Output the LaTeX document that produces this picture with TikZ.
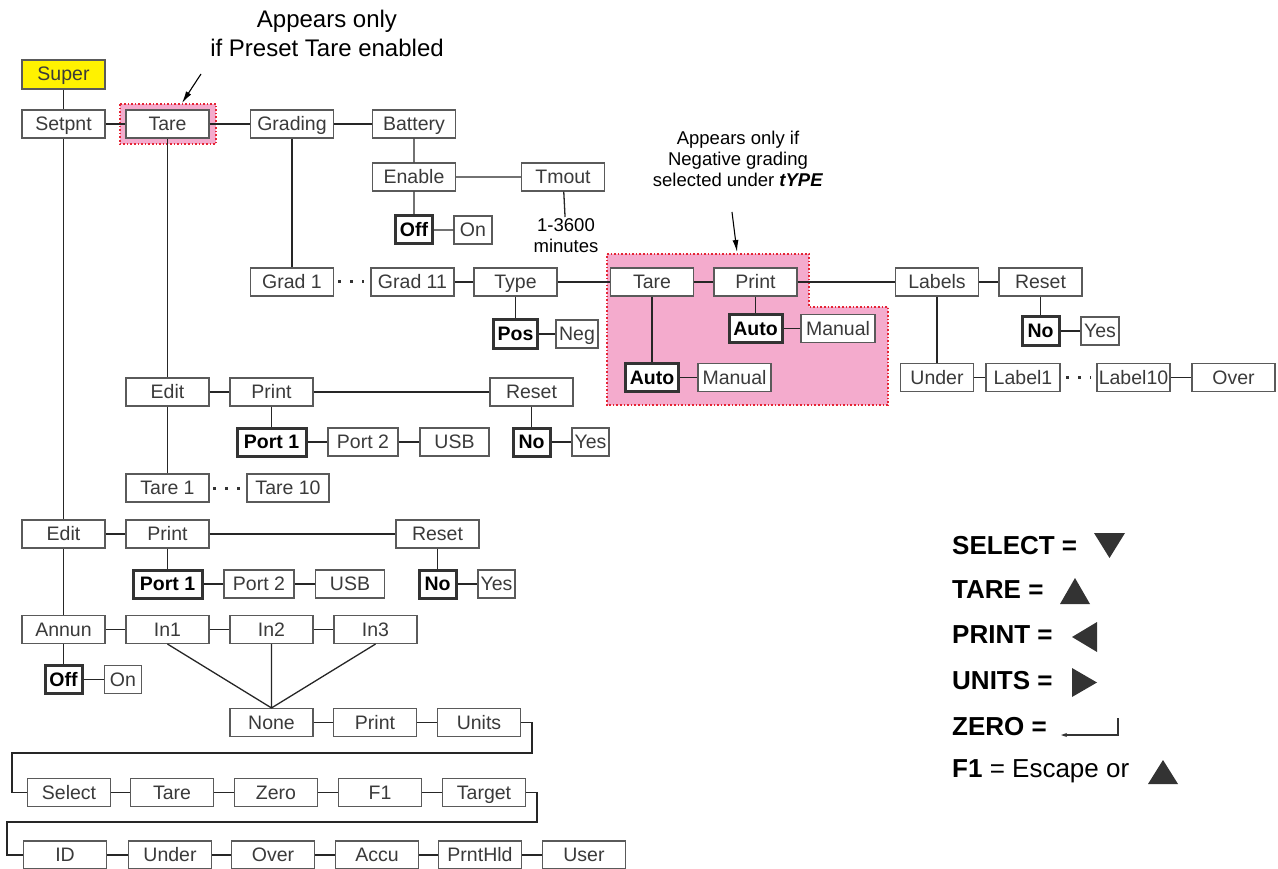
\documentclass[tikz,border=0pt]{standalone}
\usepackage{fontspec}
\setmainfont{Liberation Sans}
\usetikzlibrary{arrows.meta,calc}
\definecolor{mnpink}{HTML}{F4ABCD}
\definecolor{mnred}{HTML}{E52535}
\definecolor{mnyel}{HTML}{FFF200}
\definecolor{mnline}{HTML}{5A5A5A}
\definecolor{mntext}{HTML}{3A3A3A}
\definecolor{mndark}{HTML}{333333}

\begin{document}
\begin{tikzpicture}[x=1pt,y=-1pt,
  mbox/.style={rectangle,draw=mnline,line width=1.1pt,fill=white,text=mntext,inner sep=0pt,
    text height=14pt,text depth=1pt,minimum width=83pt,minimum height=28pt,font=\fontsize{19.5}{22}\selectfont},
  mdef/.style={mbox,draw=mndark,line width=3pt,text=black,font=\fontsize{19.5}{22}\selectfont\bfseries},
  ln/.style={line width=1.3pt,black!85},
  dts/.style={line width=3pt,dash pattern=on 3pt off 9pt,black!80},
  hl/.style={fill=mnpink,draw=mnred,line width=1.6pt,dotted},
  arr/.style={-{Latex[length=12pt,width=6pt]},line width=1.1pt},
  tri/.style={fill=mndark},
  leg/.style={anchor=west,inner sep=0pt,font=\fontsize{26}{30}\selectfont\bfseries}]
  \useasboundingbox (0,0) rectangle (1278,869);

  % shaded groups
  \path[hl] (120,104) rectangle (216,144);
  \path[hl] (607,254) -- (809,254) -- (809,307) -- (888,307) -- (888,405) -- (607,405) -- cycle;

  % notes
  \node[align=center,font=\fontsize{24}{29}\selectfont] (note1) at (327,33) {Appears only\\if Preset Tare enabled};
  \coordinate (n1a) at (201,74);
  \coordinate (n1b) at (182,103);
  \draw[arr] (n1a) -- (n1b);
  \node[align=center,font=\fontsize{18.5}{21}\selectfont] (note2) at (738,159) {Appears only if\\Negative grading\\selected under \textbf{\textit{tYPE}}};
  \coordinate (n2a) at (732,212);
  \coordinate (n2b) at (737,252);
  \draw[arr] (n2a) -- (n2b);

  % top row
  \node[mbox,fill=mnyel,minimum height=29pt] (super) at (63.5,74.5) {Super};
  \node[mbox] (setpnt) at (63.5,124) {Setpnt};
  \node[mbox] (tare) at (167.5,124) {Tare};
  \node[mbox] (grading) at (292,124) {Grading};
  \node[mbox] (battery) at (414,124) {Battery};
  \node[mbox] (enable) at (414,177) {Enable};
  \node[mbox] (tmout) at (563,177) {Tmout};
  \node[mdef,minimum width=37pt] (boff) at (414,230) {Off};
  \node[mbox,minimum width=38pt] (bon) at (473,230) {On};
  \node[anchor=north,align=center,inner sep=1pt,font=\fontsize{18.5}{21}\selectfont] (tmrange) at (566,217) {1-3600\\minutes};

  % grading row
  \node[mbox] (grad1) at (292,282) {Grad 1};
  \node[mbox] (grad11) at (412.5,282) {Grad 11};
  \node[mbox] (type) at (515.5,282) {Type};
  \node[mdef,minimum width=44pt] (pos) at (515.5,334) {Pos};
  \node[mbox,minimum width=42pt] (neg) at (577,334) {Neg};
  \node[mbox] (gtare) at (652,282) {Tare};
  \node[mbox] (gprint) at (755.5,282) {Print};
  \node[mdef,minimum width=53pt] (pauto) at (755.5,328.5) {Auto};
  \node[mbox,minimum width=74pt] (pman) at (838,328.5) {Manual};
  \node[mdef,minimum width=53pt] (tauto) at (652,377.5) {Auto};
  \node[mbox,minimum width=73pt] (tman) at (734.5,377.5) {Manual};
  \node[mbox] (labels) at (937,282) {Labels};
  \node[mbox] (lreset) at (1040.5,282) {Reset};
  \node[mdef,minimum width=37pt] (lno) at (1040.5,331) {No};
  \node[mbox,minimum width=38pt] (lyes) at (1100,331) {Yes};
  \node[mbox,minimum width=73pt] (under) at (937,377.5) {Under};
  \node[mbox,minimum width=74pt] (label1) at (1023,377.5) {Label1};
  \node[mbox,minimum width=73pt] (label10) at (1133.5,377.5) {Label10};
  \node[mbox] (over) at (1233.5,377.5) {Over};

  % preset tare
  \node[mbox] (tedit) at (167.5,392) {Edit};
  \node[mbox] (tprint) at (271.5,392) {Print};
  \node[mbox] (treset) at (531.5,392) {Reset};
  \node[mdef,minimum width=69pt] (tport1) at (271.5,442) {Port 1};
  \node[mbox,minimum width=70pt] (tport2) at (363,442) {Port 2};
  \node[mbox,minimum width=69pt] (tusb) at (454.5,442) {USB};
  \node[mdef,minimum width=37pt] (tno) at (531.5,442) {No};
  \node[mbox,minimum width=37pt] (tyes) at (590.5,442) {Yes};
  \node[mbox] (tare1) at (167.5,488) {Tare 1};
  \node[mbox,minimum width=82pt] (tare10) at (288,488) {Tare 10};

  % setpoint edit
  \node[mbox] (sedit) at (63.5,534) {Edit};
  \node[mbox] (sprint) at (167.5,534) {Print};
  \node[mbox] (sreset) at (437.5,534) {Reset};
  \node[mdef,minimum width=69pt] (sport1) at (167.5,584) {Port 1};
  \node[mbox,minimum width=70pt] (sport2) at (259,584) {Port 2};
  \node[mbox,minimum width=69pt] (susb) at (350,584) {USB};
  \node[mdef,minimum width=37pt] (sno) at (437.5,584) {No};
  \node[mbox,minimum width=37pt] (syes) at (496.5,584) {Yes};

  % annunciators
  \node[mbox] (annun) at (63.5,629.5) {Annun};
  \node[mbox] (in1) at (167.5,629.5) {In1};
  \node[mbox] (in2) at (271.5,629.5) {In2};
  \node[mbox] (in3) at (375.5,629.5) {In3};
  \node[mdef,minimum width=37pt] (aoff) at (63.5,679.5) {Off};
  \node[mbox,minimum width=37pt] (aon) at (123,679.5) {On};
  \node[mbox] (none) at (271.5,722.5) {None};
  \node[mbox] (kprint) at (375,722.5) {Print};
  \node[mbox] (units) at (479,722.5) {Units};
  \node[mbox] (select) at (69,792.5) {Select};
  \node[mbox] (ktare) at (172,792.5) {Tare};
  \node[mbox] (zero) at (276,792.5) {Zero};
  \node[mbox] (f1) at (380,792.5) {F1};
  \node[mbox] (target) at (484,792.5) {Target};
  \node[mbox] (id) at (65,855) {ID};
  \node[mbox] (kunder) at (170,855) {Under};
  \node[mbox] (kover) at (273,855) {Over};
  \node[mbox] (accu) at (377,855) {Accu};
  \node[mbox] (prnthld) at (480,855) {PrntHld};
  \node[mbox] (user) at (584,855) {User};
  \coordinate (wrapa) at (12,753);
  \coordinate (wrapb) at (7,822);

  % connectors
  \draw[ln] (super) -- (setpnt) (setpnt) -- (sedit) (sedit) -- (annun) (annun) -- (aoff) (aoff) -- (aon);
  \draw[ln] (setpnt) -- (tare) (tare) -- (grading) (grading) -- (battery);
  \draw[ln] (battery) -- (enable) (enable) -- (tmout) (enable) -- (boff) (boff) -- (bon) (tmout) -- (tmrange);
  \draw[ln] (grading) -- (grad1) (grad11) -- (type) (type) -- (gtare) (type) -- (pos) (pos) -- (neg);
  \draw[ln] (gtare) -- (gprint) (gprint) -- (labels) (gprint) -- (pauto) (pauto) -- (pman) (gtare) -- (tauto) (tauto) -- (tman);
  \draw[ln] (labels) -- (lreset) (lreset) -- (lno) (lno) -- (lyes) (labels) -- (under) (under) -- (label1) (label10) -- (over);
  \draw[ln] (tare) -- (tedit) (tedit) -- (tare1) (tedit) -- (tprint) (tprint) -- (treset) (tprint) -- (tport1) (tport1) -- (tport2) (tport2) -- (tusb) (treset) -- (tno) (tno) -- (tyes);
  \draw[ln] (sedit) -- (sprint) (sprint) -- (sreset) (sprint) -- (sport1) (sport1) -- (sport2) (sport2) -- (susb) (sreset) -- (sno) (sno) -- (syes);
  \draw[ln] (annun) -- (in1) (in1) -- (in2) (in2) -- (in3);
  \draw[ln] (in1.south) -- (none.north) (in2.south) -- (none.north) (in3.south) -- (none.north);
  \draw[ln] (none) -- (kprint) (kprint) -- (units);
  \draw[ln] (units.east) -- ++(11,0) |- (wrapa) |- (select.west);
  \draw[ln] (select) -- (ktare) (ktare) -- (zero) (zero) -- (f1) (f1) -- (target);
  \draw[ln] (target.east) -- ++(11,0) |- (wrapb) |- (id.west);
  \draw[ln] (id) -- (kunder) (kunder) -- (kover) (kover) -- (accu) (accu) -- (prnthld) (prnthld) -- (user);
  \draw[dts,shorten <=4pt,shorten >=6pt] (grad1) -- (grad11);
  \draw[dts,shorten <=5.5pt,shorten >=5pt] (label1) -- (label10);
  \draw[dts,shorten <=3.5pt,shorten >=6pt] (tare1) -- (tare10);

  % key legend
  \node[leg] (lgsel) at (952,546) {SELECT =};
  \node[leg] (lgtare) at (952,590) {TARE =};
  \node[leg] (lgprint) at (952,635) {PRINT =};
  \node[leg] (lgunits) at (952,681) {UNITS =};
  \node[leg] (lgzero) at (952,727) {ZERO =};
  \node[leg] (lgf1) at (952,771) {F1 \mdseries = Escape or};
  \fill[tri] (1094,533) -- (1125,533) -- (1109.5,558) -- cycle;
  \fill[tri] (1060,604) -- (1090,604) -- (1075,578) -- cycle;
  \fill[tri] (1097,622) -- (1097,652) -- (1072,637) -- cycle;
  \fill[tri] (1072,668) -- (1072,697) -- (1097,682.5) -- cycle;
  \draw[line width=1.2pt,mndark,-{Stealth[length=6pt,width=4pt]}] (1118,718) -- (1118,735) -- (1061,735);
  \fill[tri] (1148,784) -- (1178,784) -- (1163,760) -- cycle;
\end{tikzpicture}
\end{document}
